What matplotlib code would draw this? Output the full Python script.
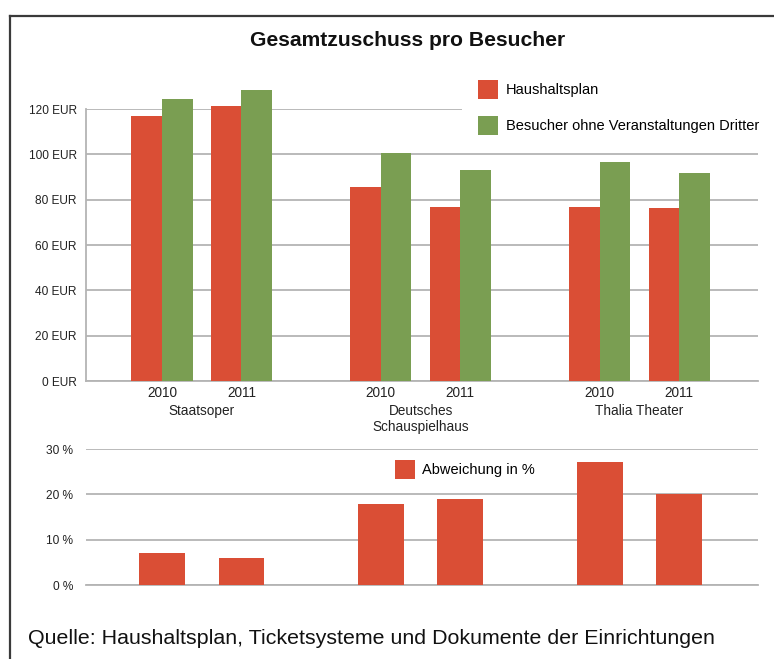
import matplotlib
matplotlib.use("Agg")
import matplotlib.pyplot as plt
import matplotlib.transforms as mtransforms
from matplotlib.lines import Line2D
from matplotlib.ticker import FuncFormatter

plt.rcParams['font.family'] = ['Liberation Sans', 'DejaVu Sans']

# ---- data ----
theaters = ["Staatsoper", "Deutsches\nSchauspielhaus", "Thalia Theater"]
years = ["2010", "2011"]
haushaltsplan = [116.9, 121.5, 85.6, 76.8, 76.8, 76.3]
besucher_ohne_dritte = [124.4, 128.4, 100.6, 93.1, 96.6, 91.8]
abweichung = [7.1, 6.0, 17.9, 19.0, 27.2, 20.1]
eur_ticks = [0, 20, 40, 60, 80, 100, 120]
pct_ticks = [0, 10, 20, 30]

RED = "#da4e35"
GREEN = "#7a9e52"
GRID = "#b4b4b4"

W, H = 774, 659
fig = plt.figure(figsize=(W / 100, H / 100), dpi=100)

def fx(px):
    return px / W

def fy(py):
    return 1 - py / H

group_gap = 2.755
pos = [g * group_gap + j for g in range(len(theaters)) for j in range(len(years))]
xlim = (-0.955, 7.50)

# ---- top chart ----
ax = fig.add_axes([fx(86), fy(381), fx(758) - fx(86), fy(109) - fy(381)])
bw = 0.385
b1 = ax.bar([p - bw / 2 for p in pos], haushaltsplan, width=bw, color=RED,
            label="Haushaltsplan", clip_on=False, zorder=3)
b2 = ax.bar([p + bw / 2 for p in pos], besucher_ohne_dritte, width=bw, color=GREEN,
            label="Besucher ohne Veranstaltungen Dritter", clip_on=False, zorder=3)
ax.set_xlim(*xlim)
ax.set_ylim(0, 120)
ax.set_yticks(eur_ticks)
ax.yaxis.set_major_formatter(FuncFormatter(lambda v, _: f"{int(v)} EUR"))
ax.set_xticks(pos)
ax.set_xticklabels(years * len(theaters))
ax.tick_params(axis="both", length=0, labelsize=9.8, colors="#222222")
ax.tick_params(axis="y", pad=6.5, labelsize=8.6)
ax.tick_params(axis="x", pad=3.5)
ax.grid(axis="y", color=GRID, linewidth=1.3, zorder=0)
ax.set_axisbelow(True)
for s in ["top", "right"]:
    ax.spines[s].set_visible(False)
for s in ["left", "bottom"]:
    ax.spines[s].set_color(GRID)
    ax.spines[s].set_linewidth(1.3)
blend = mtransforms.blended_transform_factory(ax.transData, fig.transFigure)
for g, name in enumerate(theaters):
    cx = (pos[2 * g] + pos[2 * g + 1]) / 2
    ax.text(cx, fy(404), name, transform=blend, ha="center", va="top",
            fontsize=9.8, color="#222222", linespacing=1.15)

leg = ax.legend(handles=[b1, b2], loc="upper left",
                bbox_to_anchor=(fx(462), fy(64)), bbox_transform=fig.transFigure,
                fontsize=10.5, frameon=True, facecolor="white", edgecolor="none",
                framealpha=1, fancybox=False, borderpad=1.1, handlelength=1.36,
                handleheight=1.6, handletextpad=0.55, labelspacing=1.2,
                borderaxespad=0)
leg.set_zorder(10)

# ---- bottom chart ----
ax2 = fig.add_axes([fx(86), fy(585), fx(758) - fx(86), fy(449) - fy(585)])
b3 = ax2.bar(pos, abweichung, width=0.575, color=RED, label="Abweichung in %", zorder=3)
ax2.set_xlim(*xlim)
ax2.set_ylim(0, 30)
ax2.set_yticks(pct_ticks)
ax2.yaxis.set_major_formatter(FuncFormatter(lambda v, _: f"{int(v)} %"))
ax2.set_xticks([])
ax2.tick_params(axis="y", length=0, labelsize=8.6, pad=9, colors="#222222")
ax2.grid(axis="y", color=GRID, linewidth=1.3, zorder=0)
ax2.set_axisbelow(True)
for s in ["top", "right", "left"]:
    ax2.spines[s].set_visible(False)
ax2.spines["bottom"].set_color(GRID)
ax2.spines["bottom"].set_linewidth(1.3)
ax2.legend(handles=[b3], loc="upper left", bbox_to_anchor=(fx(395), fy(460)),
           bbox_transform=fig.transFigure, fontsize=10.5, frameon=False,
           borderpad=0, handlelength=1.36, handleheight=1.6, handletextpad=0.5,
           borderaxespad=0)

# ---- texts ----
fig.text(fx(408), fy(41), "Gesamtzuschuss pro Besucher", ha="center", va="center",
         fontsize=15.2, fontweight="bold", color="#111111")
fig.text(fx(28), fy(638), "Quelle: Haushaltsplan, Ticketsysteme und Dokumente der Einrichtungen",
         ha="left", va="center", fontsize=15.4, color="#111111")

# ---- outer frame ----
fig.add_artist(Line2D([fx(10), fx(10)], [fy(16), 0], transform=fig.transFigure,
                      color="#3a3a3a", linewidth=1.6))
fig.add_artist(Line2D([fx(10), 1], [fy(16), fy(16)], transform=fig.transFigure,
                      color="#3a3a3a", linewidth=1.6))

fig.savefig("out.png", dpi=100)
